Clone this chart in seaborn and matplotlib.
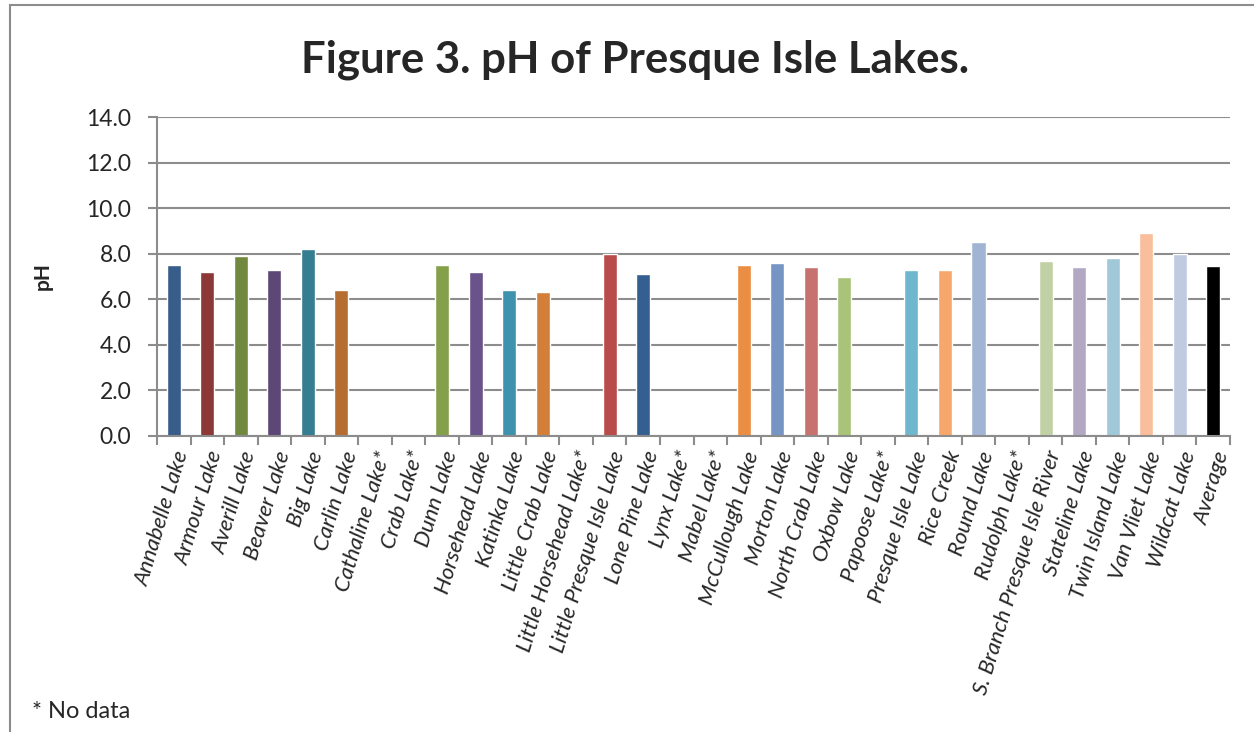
import numpy as np
import pandas as pd
import matplotlib.pyplot as plt
import seaborn as sns
from matplotlib.patches import Rectangle

sns.set_theme(style="white")
plt.rcParams['font.family'] = ['Lato', 'DejaVu Sans']

# Lakes and pH values (NaN = no data)
lakes = [
    "Annabelle Lake", "Armour Lake", "Averill Lake", "Beaver Lake", "Big Lake",
    "Carlin Lake", "Cathaline Lake*", "Crab Lake*", "Dunn Lake", "Horsehead Lake",
    "Katinka Lake", "Little Crab Lake", "Little Horsehead Lake*",
    "Little Presque Isle Lake", "Lone Pine Lake", "Lynx Lake*", "Mabel Lake*",
    "McCullough Lake", "Morton Lake", "North Crab Lake", "Oxbow Lake",
    "Papoose Lake*", "Presque Isle Lake", "Rice Creek", "Round Lake",
    "Rudolph Lake*", "S. Branch Presque Isle River", "Stateline Lake",
    "Twin Island Lake", "Van Vliet Lake", "Wildcat Lake", "Average",
]
ph = [
    7.5, 7.2, 7.9, 7.3, 8.2,
    6.4, np.nan, np.nan, 7.5, 7.2,
    6.4, 6.3, np.nan,
    8.0, 7.1, np.nan, np.nan,
    7.5, 7.6, 7.4, 7.0,
    np.nan, 7.3, 7.3, 8.5,
    np.nan, 7.7, 7.4,
    7.8, 8.9, 8.0, 7.46,
]
colors = [
    "#385D8A", "#8C3836", "#71893F", "#5C4776", "#357D91",
    "#B66D31", "#4F81BD", "#C0504D", "#84A04B", "#6A528A",
    "#3F92AD", "#D37F3A", "#7F7F7F",
    "#B94C4A", "#355F91", "#9BBB59", "#8064A2",
    "#EB8D43", "#7795C4", "#C87270", "#A9C379",
    "#4BACC6", "#6FB7CC", "#F7A76C", "#A2B4D4",
    "#F79646", "#C2D1A5", "#B2A8C4",
    "#A1C8D8", "#F9BE9C", "#C0CBDF", "#000000",
]
y_ticks = [0, 2, 4, 6, 8, 10, 12, 14]

df = pd.DataFrame({"Lake": lakes, "pH": ph})
palette = dict(zip(lakes, colors))

fig = plt.figure(figsize=(12.54, 7.32), dpi=100)
W, H = 1254, 732
ax = fig.add_axes([157 / W, 1 - 436 / H, (1230 - 157) / W, (436 - 117) / H])

sns.barplot(data=df, x="Lake", y="pH", hue="Lake", palette=palette,
            order=lakes, hue_order=lakes, legend=False, width=0.42,
            saturation=1, ax=ax, errorbar=None)

ax.set_xlim(-0.5, len(lakes) - 0.5)
ax.set_ylim(0, 14)
ax.set_yticks(y_ticks)
ax.set_yticklabels([f"{v:.1f}" for v in y_ticks], fontsize=16.5)
ax.yaxis.grid(True, color="#8C8C8C", linewidth=1.5)
ax.set_axisbelow(True)

ax.set_xticks(range(len(lakes)))
ax.set_xticklabels(lakes, rotation=73, ha="right", rotation_mode="anchor",
                   fontsize=16, style="italic")
ax.set_xticks(np.arange(-0.5, len(lakes)), minor=True)
ax.tick_params(axis="x", which="major", length=0, pad=9)
ax.tick_params(axis="x", which="minor", length=6.5, width=1.5, color="#8C8C8C",
               direction="out", bottom=True)
ax.tick_params(axis="y", length=6.5, width=1.5, color="#8C8C8C", direction="out",
               left=True, pad=12)

for s in ["top", "right"]:
    ax.spines[s].set_visible(False)
for s in ["left", "bottom"]:
    ax.spines[s].set_color("#8C8C8C")
    ax.spines[s].set_linewidth(1.5)

ax.set_xlabel("")
ax.set_ylabel("pH", fontsize=15, fontweight="bold", labelpad=24)

fig.text(635 / W, 1 - 60 / H, "Figure 3. pH of Presque Isle Lakes.",
         ha="center", va="center", fontsize=31.5, fontweight="bold")
fig.text(32 / W, 1 - 712 / H, "* No data", ha="left", va="center", fontsize=17)

fig.patches.append(Rectangle((10 / W, -0.1), 1.2, 1 - 5 / H + 0.1,
                             transform=fig.transFigure, fill=False,
                             edgecolor="#8C8C8C", linewidth=1.5))

fig.savefig("out.png", dpi=100)
